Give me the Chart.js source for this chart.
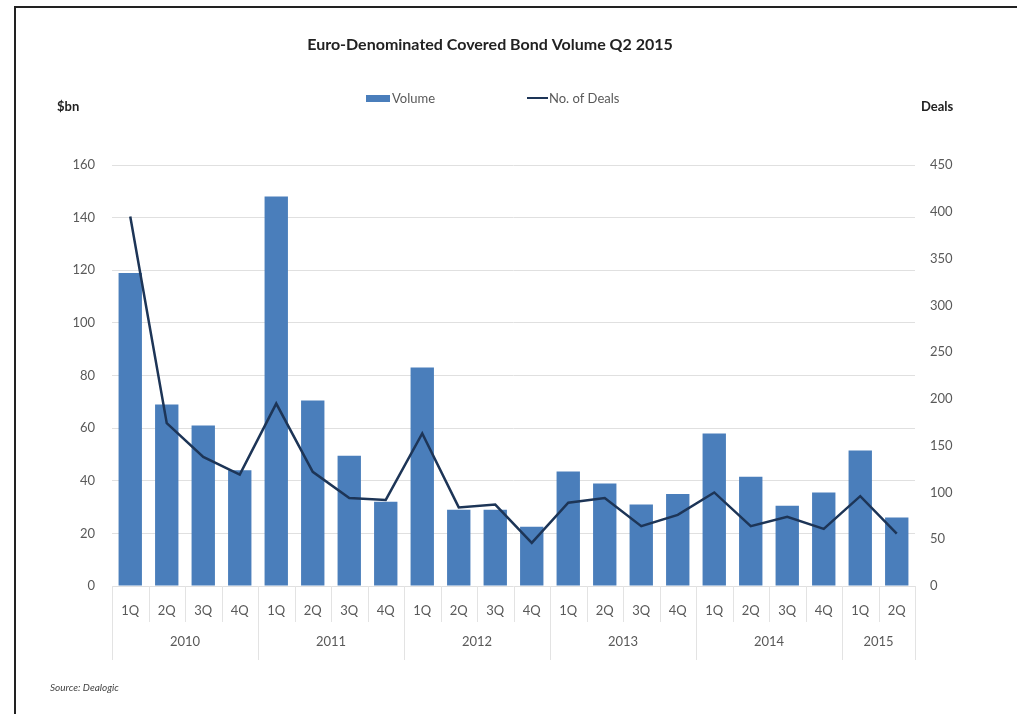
<!DOCTYPE html>
<html>
<head>
<meta charset="utf-8">
<script src="https://cdn.jsdelivr.net/npm/chart.js@4/dist/chart.umd.min.js"></script>
<style>
  html, body { margin: 0; padding: 0; background: #fff; }
  #wrap { position: relative; width: 1017px; height: 714px; }
  #frame { position: absolute; left: 14px; top: 6px; right: 0; bottom: 0;
           border-top: 2px solid #222; border-left: 2px solid #222; pointer-events: none; }
</style>
</head>
<body>
<div id="wrap">
  <canvas id="chart" width="1017" height="714"></canvas>
  <div id="frame"></div>
</div>
<script>
// Quarters on the x axis, grouped by year
const quarters = ['1Q','2Q','3Q','4Q','1Q','2Q','3Q','4Q','1Q','2Q','3Q','4Q',
                  '1Q','2Q','3Q','4Q','1Q','2Q','3Q','4Q','1Q','2Q'];
const years = ['2010','2011','2012','2013','2014','2015'];
const quartersPerYear = [4, 4, 4, 4, 4, 2];

// Volume in $bn (left axis)
const volume = [119, 69, 61, 44, 148, 70.5, 49.5, 32, 83, 29, 29, 22.5,
                43.5, 39, 31, 35, 58, 41.5, 30.5, 35.5, 51.5, 26];
// Number of deals (right axis)
const deals = [395, 174, 138, 119, 195, 122, 94, 92, 163, 84, 87, 46,
               89, 94, 64, 76, 100, 64, 74, 61, 96, 56];

const FONT = 'Lato, "Open Sans", sans-serif';
const BAR_COLOR = '#4a7ebb';
const LINE_COLOR = '#1d3557';
const TEXT = '#595959';
const SEP = '#e3e3e3';

// titles, legend, year row and separators
const decorations = {
    id: 'decorations',
    afterDraw(chart) {
        const ctx = chart.ctx;
        const x = chart.scales.x;
        const area = chart.chartArea;
        ctx.save();

        ctx.fillStyle = '#222';
        ctx.textBaseline = 'middle';
        ctx.textAlign = 'center';
        ctx.font = 'bold 16px ' + FONT;
        ctx.fillText('Euro-Denominated Covered Bond Volume Q2 2015', 490, 45);

        ctx.font = 'bold 13px ' + FONT;
        ctx.textAlign = 'left';
        ctx.fillText('$bn', 57, 107);
        ctx.fillText('Deals', 921, 107);

        // legend
        ctx.font = '13px ' + FONT;
        ctx.fillStyle = BAR_COLOR;
        ctx.fillRect(366, 95, 24, 7);
        ctx.fillStyle = TEXT;
        ctx.fillText('Volume', 392, 99);
        ctx.strokeStyle = LINE_COLOR;
        ctx.lineWidth = 2;
        ctx.beginPath();
        ctx.moveTo(527, 98);
        ctx.lineTo(548, 98);
        ctx.stroke();
        ctx.fillText('No. of Deals', 549, 99);

        // separators below the axis
        const half = (x.getPixelForValue(1) - x.getPixelForValue(0)) / 2;
        ctx.strokeStyle = SEP;
        ctx.lineWidth = 1;
        const yearEdges = new Set();
        let idx = 0;
        yearEdges.add(0);
        quartersPerYear.forEach(n => { idx += n; yearEdges.add(idx); });
        for (let i = 0; i <= quarters.length; i++) {
            const px = Math.round(x.getPixelForValue(i) - half) + 0.5;
            ctx.beginPath();
            ctx.moveTo(px, area.bottom);
            ctx.lineTo(px, yearEdges.has(i) ? 660 : 622);
            ctx.stroke();
        }

        // year labels
        ctx.font = '13px ' + FONT;
        ctx.fillStyle = TEXT;
        ctx.textAlign = 'center';
        let start = 0;
        years.forEach((yr, k) => {
            const end = start + quartersPerYear[k] - 1;
            const cx = (x.getPixelForValue(start) + x.getPixelForValue(end)) / 2;
            ctx.fillText(yr, cx, 642);
            start = end + 1;
        });

        ctx.font = 'italic 10px ' + FONT;
        ctx.fillStyle = '#444';
        ctx.textAlign = 'left';
        ctx.fillText('Source: Dealogic', 50, 688);
        ctx.restore();
    }
};

new Chart(document.getElementById('chart'), {
    data: {
        labels: quarters,
        datasets: [
            {
                type: 'line',
                label: 'No. of Deals',
                data: deals,
                yAxisID: 'y1',
                borderColor: LINE_COLOR,
                borderWidth: 2.5,
                pointRadius: 0,
                tension: 0,
                order: 0
            },
            {
                type: 'bar',
                label: 'Volume',
                data: volume,
                yAxisID: 'y',
                backgroundColor: BAR_COLOR,
                categoryPercentage: 1,
                barPercentage: 0.64,
                order: 1
            }
        ]
    },
    options: {
        responsive: false,
        animation: false,
        layout: { padding: { top: 165, left: 0, right: 0, bottom: 0 } },
        plugins: {
            legend: { display: false },
            title: { display: false },
            tooltip: { enabled: false }
        },
        scales: {
            x: {
                grid: { display: false },
                border: { display: false },
                ticks: { color: TEXT, font: { family: FONT, size: 13 }, padding: 9, maxRotation: 0, autoSkip: false },
                afterFit: s => { s.height = 128; }
            },
            y: {
                position: 'left',
                min: 0, max: 160,
                ticks: { stepSize: 20, color: TEXT, font: { family: FONT, size: 13 }, padding: 17 },
                grid: { color: '#e0e0e0', drawTicks: false },
                border: { display: false },
                afterFit: s => { s.width = 112; }
            },
            y1: {
                position: 'right',
                min: 0, max: 450,
                ticks: { stepSize: 50, color: TEXT, font: { family: FONT, size: 13 }, padding: 15 },
                grid: { display: false, drawTicks: false },
                border: { display: false },
                afterFit: s => { s.width = 102; }
            }
        }
    },
    plugins: [decorations]
});
</script>
</body>
</html>
